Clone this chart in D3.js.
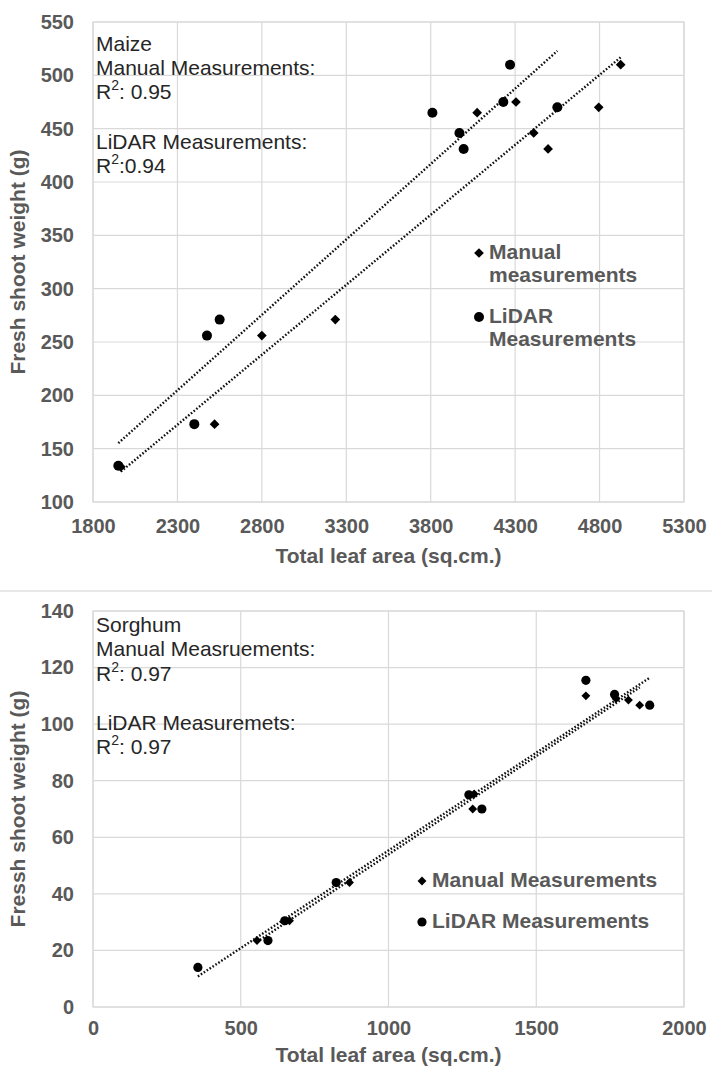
<!DOCTYPE html>
<html>
<head>
<meta charset="utf-8">
<script src="https://cdn.jsdelivr.net/npm/d3@7"></script>
<style>
  html, body { margin: 0; padding: 0; background: #fff; }
  svg { display: block; font-family: "Liberation Sans", Arial, sans-serif; }
</style>
</head>
<body>
<svg id="fig" width="712" height="1075"></svg>
<script>
// Maize: total leaf area (sq.cm.) vs fresh shoot weight (g)
const maizeManualArea   = [1965, 2520, 2800, 3235, 4075, 4305, 4410, 4495, 4795, 4925];
const maizeManualWeight = [133, 173, 256, 271, 465, 475, 446, 431, 470, 510];
const maizeLidarArea    = [1950, 2400, 2475, 2550, 3810, 3970, 3995, 4230, 4270, 4550];
const maizeLidarWeight  = [134, 173, 256, 271, 465, 446, 431, 475, 510, 470];

// Sorghum: total leaf area (sq.cm.) vs fresh shoot weight (g)
const sorghumManualArea   = [555, 665, 868, 1285, 1290, 1668, 1770, 1812, 1850];
const sorghumManualWeight = [23.5, 30.5, 44, 70, 75.3, 110, 109, 108.5, 106.7];
const sorghumLidarArea    = [355, 592, 649, 823, 1272, 1316, 1668, 1765, 1884];
const sorghumLidarWeight  = [14, 23.5, 30.5, 44, 75, 70, 115.5, 110.5, 106.7];

// Axis ticks
const maizeXTicks   = [1800, 2300, 2800, 3300, 3800, 4300, 4800, 5300];
const maizeYTicks   = [100, 150, 200, 250, 300, 350, 400, 450, 500, 550];
const sorghumXTicks = [0, 500, 1000, 1500, 2000];
const sorghumYTicks = [0, 20, 40, 60, 80, 100, 120, 140];

// Annotation lines
const maizeNotes = ["Maize", "Manual Measurements:", ["R", "2", ": 0.95"], null, "LiDAR Measurements:", ["R", "2", ":0.94"]];
const sorghumNotes = ["Sorghum", "Manual Measruements:", ["R", "2", ": 0.97"], null, "LiDAR Measuremets:", ["R", "2", ": 0.97"]];

const svg = d3.select("#fig");
const GRID = "#d9d9d9";
const LABEL = "#595959";

function zip(xs, ys) { return xs.map((x, i) => ({ x, y: ys[i] })); }

// Least-squares line spanning the series' x range
function fitLine(pts) {
  const mx = d3.mean(pts, d => d.x), my = d3.mean(pts, d => d.y);
  const sxy = d3.sum(pts, d => (d.x - mx) * (d.y - my));
  const sxx = d3.sum(pts, d => (d.x - mx) ** 2);
  const b = sxy / sxx, a = my - b * mx;
  const [x0, x1] = d3.extent(pts, d => d.x);
  return [{ x: x0, y: a + b * x0 }, { x: x1, y: a + b * x1 }];
}

function drawPanel(cfg) {
  const g = svg.append("g");
  const { x, y } = cfg;
  const [L, R] = x.range();
  const [B, T] = y.range();

  // grid
  g.append("g").selectAll("line.v").data(cfg.xTicks).join("line")
    .attr("x1", d => x(d)).attr("x2", d => x(d)).attr("y1", T).attr("y2", B)
    .attr("stroke", GRID).attr("stroke-width", 1.2);
  g.append("g").selectAll("line.h").data(cfg.yTicks).join("line")
    .attr("x1", L).attr("x2", R).attr("y1", d => y(d)).attr("y2", d => y(d))
    .attr("stroke", GRID).attr("stroke-width", 1.2);
  g.append("rect").attr("x", L).attr("y", T).attr("width", R - L).attr("height", B - T)
    .attr("fill", "none").attr("stroke", GRID).attr("stroke-width", 1.2);

  // axes (labels only)
  const ax = g.append("g").attr("transform", `translate(0,${B})`)
    .call(d3.axisBottom(x).tickValues(cfg.xTicks).tickSize(0).tickPadding(cfg.xPad).tickFormat(d3.format("d")));
  const ay = g.append("g").attr("transform", `translate(${L},0)`)
    .call(d3.axisLeft(y).tickValues(cfg.yTicks).tickSize(0).tickPadding(19).tickFormat(d3.format("d")));
  [ax, ay].forEach(a => {
    a.select(".domain").remove();
    a.selectAll("text").attr("fill", LABEL).attr("font-size", 20).attr("font-weight", "bold")
      .attr("font-family", "Liberation Sans, Arial, sans-serif");
  });

  // axis titles
  g.append("text").attr("x", (L + R) / 2).attr("y", cfg.xTitleY)
    .attr("text-anchor", "middle").attr("dominant-baseline", "middle")
    .attr("font-size", 21).attr("font-weight", "bold").attr("fill", LABEL).text(cfg.xTitle);
  g.append("text").attr("transform", `translate(19,${(T + B) / 2}) rotate(-90)`)
    .attr("text-anchor", "middle").attr("dominant-baseline", "middle")
    .attr("font-size", 21).attr("font-weight", "bold").attr("fill", LABEL).text(cfg.yTitle);

  // trend lines
  const line = d3.line().x(d => x(d.x)).y(d => y(d.y));
  cfg.series.forEach(s => {
    g.append("path").attr("d", line(fitLine(s.pts)))
      .attr("fill", "none").attr("stroke", "#111").attr("stroke-width", 2.4)
      .attr("stroke-dasharray", "1.6,1.9");
  });

  // markers
  const diamond = d3.symbol().type(d3.symbolDiamond2).size(cfg.dSize);
  cfg.series.forEach(s => {
    const sel = g.append("g").selectAll("path").data(s.pts).join("path")
      .attr("transform", d => `translate(${x(d.x)},${y(d.y)})`)
      .attr("fill", "#000");
    if (s.shape === "diamond") sel.attr("d", diamond);
    else sel.attr("d", d3.symbol().type(d3.symbolCircle).size(Math.PI * cfg.r * cfg.r));
  });

  // notes
  const notes = g.append("g").attr("font-size", 21).attr("fill", "#262626");
  cfg.notes.forEach((n, i) => {
    if (n === null) return;
    const t = notes.append("text").attr("x", L + 3).attr("y", cfg.noteY[i])
      .attr("dominant-baseline", "middle");
    if (Array.isArray(n)) {
      t.append("tspan").text(n[0]);
      t.append("tspan").attr("font-size", 14).attr("dy", -7).text(n[1]);
      t.append("tspan").attr("dy", 7).text(n[2]);
    } else t.text(n);
  });

  // legend
  const lg = g.append("g").attr("font-size", 21).attr("font-weight", "bold").attr("fill", LABEL);
  cfg.legend.forEach(it => {
    const sym = it.shape === "diamond" ? diamond : d3.symbol().type(d3.symbolCircle).size(Math.PI * cfg.r * cfg.r);
    lg.append("path").attr("d", sym).attr("fill", "#000")
      .attr("transform", `translate(${it.mx},${it.my})`);
    it.lines.forEach((s, k) => {
      lg.append("text").attr("x", it.mx + 10).attr("y", it.my + k * 23)
        .attr("dominant-baseline", "middle").text(s);
    });
  });
}

// separator between the two panels
svg.append("line").attr("x1", 0).attr("x2", 712).attr("y1", 591).attr("y2", 591)
  .attr("stroke", "#d0d0d0").attr("stroke-width", 1.2);

drawPanel({
  x: d3.scaleLinear([1800, 5300], [93, 684]),
  y: d3.scaleLinear([100, 550], [502, 22]),
  xTicks: maizeXTicks, yTicks: maizeYTicks, xPad: 17,
  xTitle: "Total leaf area (sq.cm.)", xTitleY: 557,
  yTitle: "Fresh shoot weight (g)",
  series: [
    { shape: "circle", pts: zip(maizeLidarArea, maizeLidarWeight) },
    { shape: "diamond", pts: zip(maizeManualArea, maizeManualWeight) }
  ],
  r: 5, dSize: 60,
  notes: maizeNotes, noteY: [45, 69, 93, 118, 143, 167],
  legend: [
    { shape: "diamond", mx: 479, my: 253, lines: ["Manual", "measurements"] },
    { shape: "circle", mx: 479, my: 317, lines: ["LiDAR", "Measurements"] }
  ]
});

drawPanel({
  x: d3.scaleLinear([0, 2000], [93, 684]),
  y: d3.scaleLinear([0, 140], [1007, 611]),
  xTicks: sorghumXTicks, yTicks: sorghumYTicks, xPad: 14,
  xTitle: "Total leaf area (sq.cm.)", xTitleY: 1056,
  yTitle: "Fressh shoot weight (g)",
  series: [
    { shape: "circle", pts: zip(sorghumLidarArea, sorghumLidarWeight) },
    { shape: "diamond", pts: zip(sorghumManualArea, sorghumManualWeight) }
  ],
  r: 4.6, dSize: 50,
  notes: sorghumNotes, noteY: [626, 650, 675, 700, 724, 748],
  legend: [
    { shape: "diamond", mx: 422, my: 881, lines: ["Manual Measurements"] },
    { shape: "circle", mx: 422, my: 922, lines: ["LiDAR Measurements"] }
  ]
});
</script>
</body>
</html>
